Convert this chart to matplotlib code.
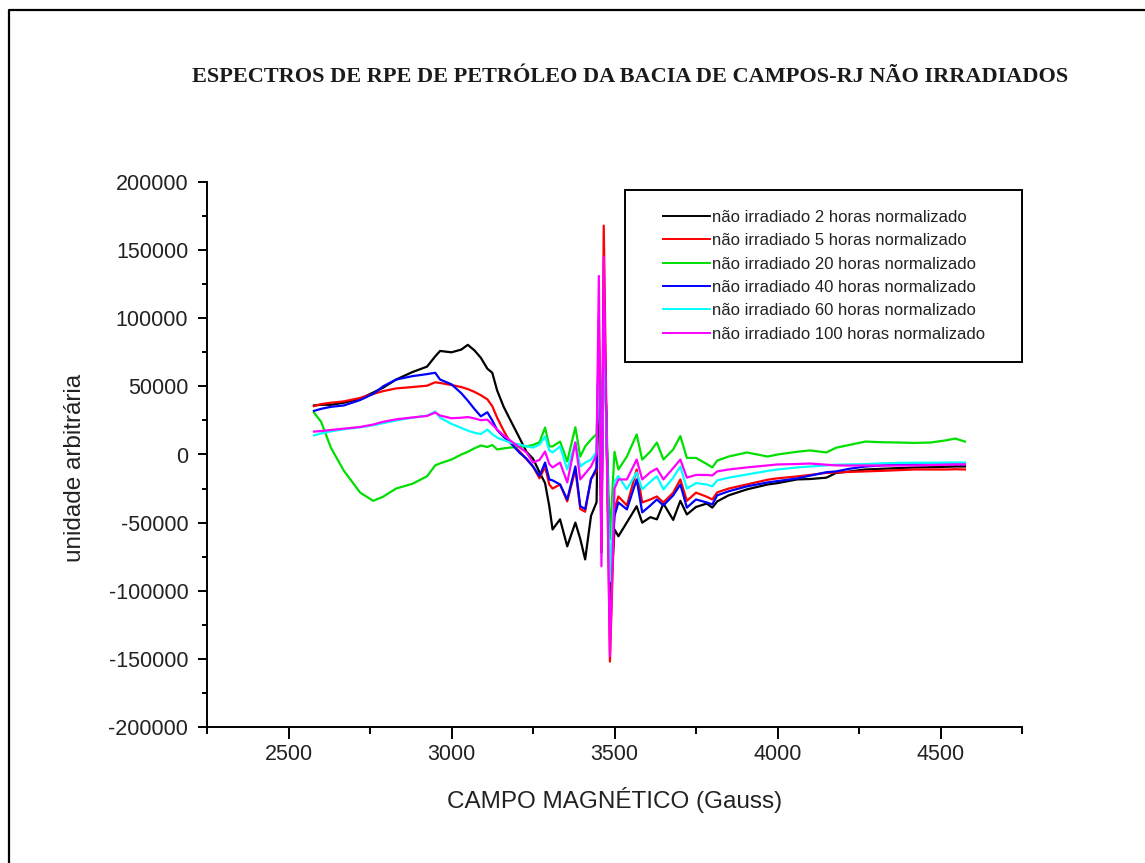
import matplotlib
matplotlib.use("Agg")
import matplotlib.pyplot as plt
from matplotlib.ticker import MultipleLocator
from matplotlib.patches import Rectangle
from matplotlib.lines import Line2D

# campo magnetico (Gauss)
campo = [2578, 2600, 2630, 2670, 2720, 2760, 2790, 2830, 2880, 2925,
         2950, 2965, 3000, 3030, 3050, 3070, 3090, 3110, 3125, 3140,
         3160, 3180, 3210, 3230, 3250, 3270, 3287, 3300, 3310, 3333,
         3355, 3380, 3395, 3410, 3428, 3445, 3452, 3460, 3467, 3486,
         3500, 3512, 3538, 3568, 3585, 3610, 3630, 3650, 3680, 3702,
         3722, 3750, 3783, 3800, 3815, 3850, 3906, 3970, 4000, 4060,
         4100, 4150, 4180, 4220, 4270, 4320, 4370, 4420, 4470, 4520,
         4545, 4575]

h2 = [36000, 36500, 36500, 38000, 41000, 45500, 49000, 55000, 60500, 64500,
      72000, 76000, 75000, 77000, 80500, 76500, 71000, 63000, 60000, 47000,
      35000, 25500, 11500, 2000, -3000, -13000, -21000, -38000, -55000, -47600,
      -67400, -50000, -62000, -77000, -45000, -35000, 80000, -72000, 120000, -112000,
      -55000, -60000, -49800, -38000, -50000, -46000, -47600, -36000, -48000, -34000,
      -44000, -38500, -36000, -39000, -34400, -30000, -25600, -22000, -21000, -18300,
      -18000, -17000, -13500, -12500, -11000, -10500, -10000, -9500, -9300, -9000,
      -8800, -8800]

h5 = [35500, 37000, 38000, 39000, 41500, 44500, 46500, 48500, 49500, 50500,
      53000, 52500, 51000, 49500, 48000, 46000, 43500, 40500, 35500, 27000,
      17500, 9000, 2000, -3500, -8800, -17500, -9000, -22000, -25000, -22000,
      -34400, -11000, -40000, -42000, -18000, -12000, 100000, -67000, 168000, -152000,
      -40000, -30800, -37400, -11000, -35200, -33000, -30800, -35200, -28000, -18300,
      -34000, -28000, -31000, -33000, -27800, -25000, -22000, -18500, -17500, -16100,
      -15000, -13500, -13200, -12800, -12400, -12000, -11500, -11000, -11000, -11000,
      -10800, -11000]

h20 = [30800, 24000, 5000, -12000, -28000, -34000, -31000, -25000, -21500, -16000,
       -8000, -6500, -3700, 0, 2000, 4500, 6600, 5500, 7000, 3700,
       4500, 5100, 5700, 6000, 7000, 9000, 19800, 6000, 5900, 9500,
       -5000, 20000, -1500, 5900, 11000, 15000, 60000, -20000, 95000, -62000,
       2000, -11000, -1500, 14700, -3700, 2200, 8800, -3700, 3700, 13500,
       -2500, -2500, -7000, -9500, -4500, -1500, 1500, -1500, 0, 2000,
       3000, 1500, 5000, 7000, 9500, 9000, 8800, 8500, 8800, 10500,
       11700, 9500]

h40 = [32000, 33500, 35000, 36000, 40000, 44500, 50000, 55000, 57500, 59000,
       60000, 55000, 51500, 45000, 39500, 33500, 28000, 31000, 25000, 18000,
       13000, 8800, 1000, -3000, -8800, -15900, -5900, -18300, -19000, -22000,
       -33000, -8800, -38000, -40000, -18000, -10000, 90000, -50000, 110000, -94000,
       -45000, -35200, -40300, -18300, -42500, -37400, -33000, -37400, -30000, -22000,
       -39000, -33000, -35200, -36600, -30000, -27000, -23400, -20500, -19500, -17600,
       -15500, -13000, -12400, -10500, -8800, -8000, -7500, -7300, -7300, -7300,
       -7300, -7300]

h60 = [14000, 15500, 17000, 18500, 20000, 21500, 23000, 25000, 27000, 28500,
       31500, 27000, 22500, 19500, 17500, 16000, 15000, 18300, 15000, 12400,
       10500, 8800, 7300, 6000, 5100, 7300, 13200, 3000, 1500, 5900,
       -11000, 8800, -8800, -6000, -3700, 2000, 80000, -40000, 97000, -93000,
       -20000, -15900, -25600, -13200, -25600, -20000, -15900, -25600, -17000, -8800,
       -25000, -21000, -22000, -23400, -19000, -17000, -14700, -12000, -11000, -9500,
       -8800, -8000, -7500, -7300, -7000, -6500, -6200, -6000, -6000, -5900,
       -5900, -5900]

h100 = [16800, 17200, 18000, 19000, 20200, 22000, 24000, 25800, 27200, 28300,
        30800, 28600, 26600, 27000, 27500, 26500, 25200, 25600, 22000, 18300,
        14000, 10300, 5000, 1500, -5900, -4000, 2200, -7000, -9500, -5900,
        -20500, 8800, -18300, -14000, -8800, 0, 131000, -82000, 145000, -148000,
        -25000, -18300, -18300, -3700, -18300, -13000, -10300, -18300, -10000, -3700,
        -17000, -15000, -15000, -15400, -12400, -11000, -9500, -8000, -7300, -7000,
        -6600, -7500, -8000, -8100, -8100, -8100, -8100, -8000, -7800, -7500,
        -7300, -7300]

series = [h2, h5, h20, h40, h60, h100]
rotulos = ["não irradiado 2 horas normalizado",
           "não irradiado 5 horas normalizado",
           "não irradiado 20 horas normalizado",
           "não irradiado 40 horas normalizado",
           "não irradiado 60 horas normalizado",
           "não irradiado 100 horas normalizado"]
cores = ["#000000", "#ff0000", "#00e000", "#0000ff", "#00ffff", "#ff00ff"]

plt.rcParams["font.family"] = ["Liberation Sans", "DejaVu Sans"]
plt.rcParams["axes.unicode_minus"] = False

W, H = 1145, 863
fig = plt.figure(figsize=(W / 100, H / 100), dpi=100)
ax = fig.add_axes([207 / W, 1 - 727 / H, (1022 - 207) / W, (727 - 182) / H])

for y, c in zip(series, cores):
    ax.plot(campo, y, color=c, lw=1.6)

ax.set_xlim(2250, 4750)
ax.set_ylim(-200000, 200000)
ax.xaxis.set_major_locator(MultipleLocator(500))
ax.xaxis.set_minor_locator(MultipleLocator(250))
ax.yaxis.set_major_locator(MultipleLocator(50000))
ax.yaxis.set_minor_locator(MultipleLocator(25000))

for s in ["top", "right"]:
    ax.spines[s].set_visible(False)
for s in ["left", "bottom"]:
    ax.spines[s].set_linewidth(1.4)

ax.tick_params(axis="x", which="major", length=8.6, width=1.4, labelsize=15.5, pad=4)
ax.tick_params(axis="x", which="minor", length=5, width=1.4)
ax.tick_params(axis="y", which="major", length=6.5, width=1.4, labelsize=15.5, pad=7)
ax.tick_params(axis="y", which="minor", length=3.6, width=1.4)
ax.tick_params(colors="black", which="both", labelcolor="#222222")

ax.set_xlabel("CAMPO MAGNÉTICO (Gauss)", fontsize=17.5, color="#222222")
ax.set_ylabel("unidade arbitrária", fontsize=17.5, color="#222222")
ax.xaxis.set_label_coords(0.5, (727 - 800) / 545)
ax.xaxis.label.set_verticalalignment("center")
ax.yaxis.set_label_coords((75 - 207) / 815, (727 - 468) / 545)
ax.yaxis.label.set_verticalalignment("center")

fig.text(630 / W, 1 - 77 / H,
         "ESPECTROS DE RPE DE PETRÓLEO DA BACIA DE CAMPOS-RJ NÃO IRRADIADOS",
         family=["Liberation Serif", "DejaVu Serif"], fontsize=16, weight="bold",
         ha="center", va="center", color="#1a1a1a")

# legenda
handles = [Line2D([], [], color=c, lw=1.4) for c in cores]
ax.legend(handles, rotulos, loc="upper left", frameon=False, fontsize=12,
          bbox_to_anchor=(663 / W, 1 - 210 / H), bbox_transform=fig.transFigure,
          borderpad=0, borderaxespad=0, handlelength=2.8, handletextpad=0.15,
          labelspacing=0.5, labelcolor="#222222")
fig.add_artist(Rectangle((625 / W, 1 - 362 / H), (1022 - 625) / W, (362 - 190) / H,
                         transform=fig.transFigure, fill=False, lw=1.4, ec="black"))

# moldura da figura
fig.add_artist(Line2D([9 / W, 9 / W, 1], [0, 1 - 10 / H, 1 - 10 / H],
                      transform=fig.transFigure, color="black", lw=1.6))

fig.savefig("out.png", dpi=100)
